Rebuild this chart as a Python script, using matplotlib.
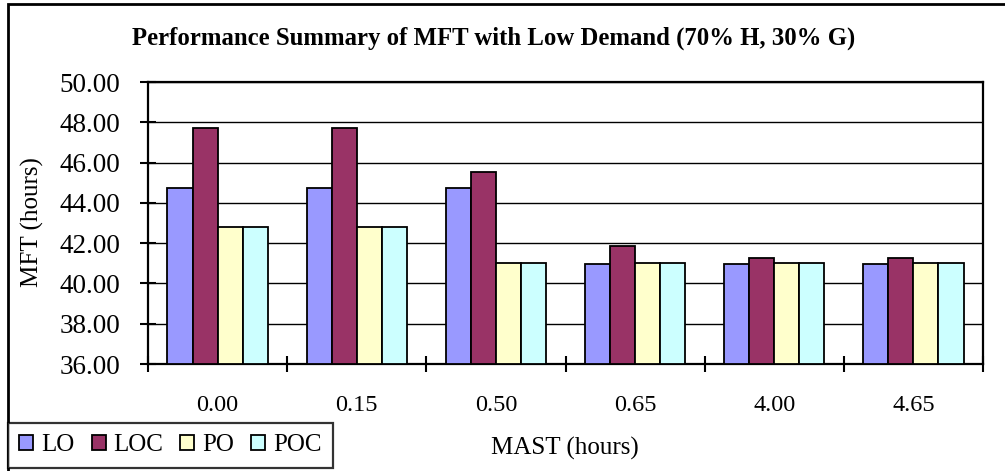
import matplotlib.pyplot as plt
from matplotlib.patches import Rectangle
import numpy as np

plt.rcParams['font.family'] = ['Liberation Serif', 'DejaVu Serif']

# data
mast = ["0.00", "0.15", "0.50", "0.65", "4.00", "4.65"]
lo = [44.74, 44.74, 44.74, 40.95, 40.95, 40.95]
loc = [47.70, 47.70, 45.51, 41.84, 41.25, 41.25]
po = [42.82, 42.82, 41.03, 41.03, 41.03, 41.03]
poc = [42.82, 42.82, 41.03, 41.03, 41.03, 41.03]

series = [("LO", lo, "#9999FF"), ("LOC", loc, "#993366"),
          ("PO", po, "#FFFFCC"), ("POC", poc, "#CCFFFF")]

W, H = 1005, 471
fig = plt.figure(figsize=(W / 100, H / 100), dpi=100)
ax = fig.add_axes([148 / W, 1 - 364 / H, (983 - 148) / W, (364 - 82) / H])

x = np.arange(len(mast))
bw = 0.18
for i, (name, vals, col) in enumerate(series):
    ax.bar(x + (i - 1.5) * bw, np.array(vals) - 36, bottom=36, width=bw,
           color=col, edgecolor="black", linewidth=1.3, label=name, zorder=3)

ax.set_xlim(-0.5, len(mast) - 0.5)
ax.set_ylim(36, 50)
ax.set_yticks(np.arange(36, 50.1, 2))
ax.set_yticklabels([f"{v:.2f}" for v in np.arange(36, 50.1, 2)], fontsize=19.5)
ax.yaxis.grid(True, color="black", linewidth=1.0, zorder=0)
ax.tick_params(axis="y", direction="inout", length=12, width=1.5, pad=14)

ax.set_xticks(x)
ax.set_xticklabels(mast, fontsize=17.5)
ax.set_xticks(np.arange(-0.5, len(mast), 1), minor=True)
ax.tick_params(axis="x", which="major", length=0, pad=22)
ax.tick_params(axis="x", which="minor", direction="inout", length=12, width=1.5)

for s in ax.spines.values():
    s.set_linewidth(1.6)

fig.text(32 / W, 1 - 222 / H, "MFT (hours)", rotation=90, fontsize=18,
         ha="center", va="center")
fig.text(565 / W, 1 - 448 / H, "MAST (hours)", fontsize=18,
         ha="center", va="center")
fig.text(494 / W, 1 - 38 / H,
         "Performance Summary of MFT with Low Demand (70% H, 30% G)",
         fontsize=17.8, fontweight="bold", ha="center", va="center")

# outer chart frame
fig.patches.append(Rectangle((7.5 / W, -0.1), 1.2, 1.1 - 3.5 / H,
                             transform=fig.transFigure, fill=False,
                             edgecolor="black", linewidth=2))

leg = fig.legend(loc="upper left", bbox_to_anchor=(8 / W, 1 - 423 / H),
                 ncol=4, fontsize=18, frameon=True, fancybox=False,
                 borderaxespad=0, handlelength=0.56, handleheight=0.56,
                 handletextpad=0.32, columnspacing=0.68, borderpad=0.45)
leg.get_frame().set_edgecolor("black")
leg.get_frame().set_linewidth(1.6)

fig.savefig("out.png", dpi=100)
